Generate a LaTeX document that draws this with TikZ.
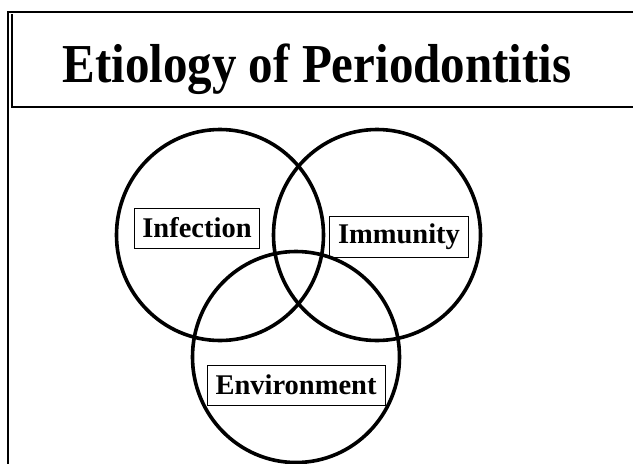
\documentclass[tikz,border=0pt]{standalone}
\usepackage{fontspec}
\setmainfont{Liberation Serif}
\usetikzlibrary{shapes.geometric}
\begin{document}
\begin{tikzpicture}[x=1pt,y=-1pt,
  frame/.style={line width=1.3pt,black},
  ring/.style={draw,ellipse,line width=3.6pt,minimum width=207pt,minimum height=211pt,inner sep=0pt},
  tag/.style={draw,line width=0.8pt,inner sep=0pt,font=\bfseries\fontsize{28.5}{30}\selectfont},
  titletext/.style={font=\bfseries\fontsize{49}{56}\selectfont,yscale=1.12,inner sep=0pt}]
\useasboundingbox (0,0) rectangle (633,464);
% frame
\coordinate (tl) at (8,12);
\coordinate (tr) at (633,12);
\coordinate (bl) at (8,464);
\coordinate (itl) at (12,14);
\coordinate (ibl) at (12,107);
\coordinate (ibr) at (633,107);
\draw[frame] (tr) -- (tl) -- (bl);
\draw[frame] (itl) -- (ibl) -- (ibr);
% title
\node[titletext,anchor=base] (title) at (317,82) {Etiology of Periodontitis};
% circles
\node[ring] (cinf) at (220,235) {};
\node[ring] (cimm) at (377,235) {};
\node[ring] (cenv) at (296,357) {};
% labels
\node[tag,minimum width=125pt,minimum height=40pt] (inf) at (197,228) {Infection};
\node[tag,minimum width=139pt,minimum height=41pt] (imm) at (399,237) {Immunity};
\node[tag,minimum width=178pt,minimum height=40pt] (env) at (296,385) {Environment};
\end{tikzpicture}
\end{document}
